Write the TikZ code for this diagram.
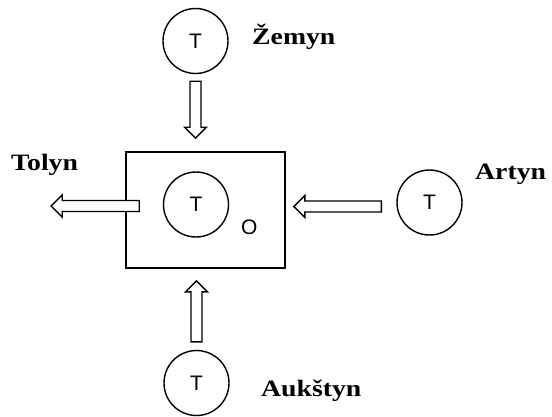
\documentclass[tikz,border=0pt]{standalone}
\usepackage{fontspec}
\setsansfont{Liberation Sans}
\newfontfamily\dirfont{Liberation Serif}[FakeStretch=1.18]
\usetikzlibrary{calc}
\tikzset{
    every picture/.style={line join=miter},
    tokennode/.style={draw,circle,line width=1.4pt,minimum size=65pt,inner sep=0pt,
      font=\sffamily\fontsize{21}{24}\selectfont},
    framebox/.style={draw,line width=1.6pt,minimum width=159pt,minimum height=116pt,
      inner sep=0pt},
    dirlabel/.style={anchor=base west,inner sep=0pt,
      font=\dirfont\bfseries\fontsize{23.5}{28}\selectfont},
    hollowarrow/.style={draw,fill=white,line width=1.4pt}
}
% open block arrow from #1 (tail) to #2 (tip)
\newcommand{\hollowarrow}[2]{%
  \draw[hollowarrow] let \p1=(#1), \p2=(#2),
      \n1={atan2(\y2-\y1,\x2-\x1)}, \n3={veclen(\x2-\x1,\y2-\y1)}, \n2={\n3-11pt}
    in [shift={(\p1)},rotate=\n1]
    (0pt,5.5pt) -- (\n2,5.5pt) -- (\n2,11pt) -- (\n3,0pt)
    -- (\n2,-11pt) -- (\n2,-5.5pt) -- (0pt,-5.5pt) -- cycle;}

\begin{document}
\begin{tikzpicture}[x=1pt,y=-1pt]
    \useasboundingbox (0,0) rectangle (552,416);
    % central cell with its token
    \node[framebox] (house) at (205.5,210) {};
    \node[tokennode] (core) at (196,204.5) {T};
    \node[anchor=base west,inner sep=0pt,font=\sffamily\fontsize{21}{24}\selectfont] (olbl) at (241,234) {O};
    % neighbouring tokens
    \node[tokennode] (zemyn) at (195.5,41) {T};
    \node[tokennode] (artyn) at (429.5,202.5) {T};
    \node[tokennode] (aukstyn) at (196.5,383) {T};
    \node[dirlabel] (zemynlbl) at (252,44.3) {Žemyn};
    \node[dirlabel] (tolynlbl) at (11,170.7) {Tolyn};
    \node[dirlabel] (artynlbl) at (475,179) {Artyn};
    \node[dirlabel] (aukstynlbl) at (261,396.7) {Aukštyn};
    % arrow ends
    \path (zemyn.south) ++(0,7) coordinate (zemyn tail);
    \path (zemyn.south |- house.north) ++(0,-13) coordinate (zemyn tip);
    \path (house.west |- core) ++(14,1.5) coordinate (tolyn tail);
    \path (house.west |- core) ++(-74,1.5) coordinate (tolyn tip);
    \path (artyn.west) ++(-15,4) coordinate (artyn tail);
    \path (house.east |- artyn) ++(8,4) coordinate (artyn tip);
    \path (aukstyn.north) ++(0,-8) coordinate (aukstyn tail);
    \path (aukstyn.north |- house.south) ++(0,12) coordinate (aukstyn tip);
    \hollowarrow{zemyn tail}{zemyn tip}
    \hollowarrow{tolyn tail}{tolyn tip}
    \hollowarrow{artyn tail}{artyn tip}
    \hollowarrow{aukstyn tail}{aukstyn tip}
\end{tikzpicture}
\end{document}
